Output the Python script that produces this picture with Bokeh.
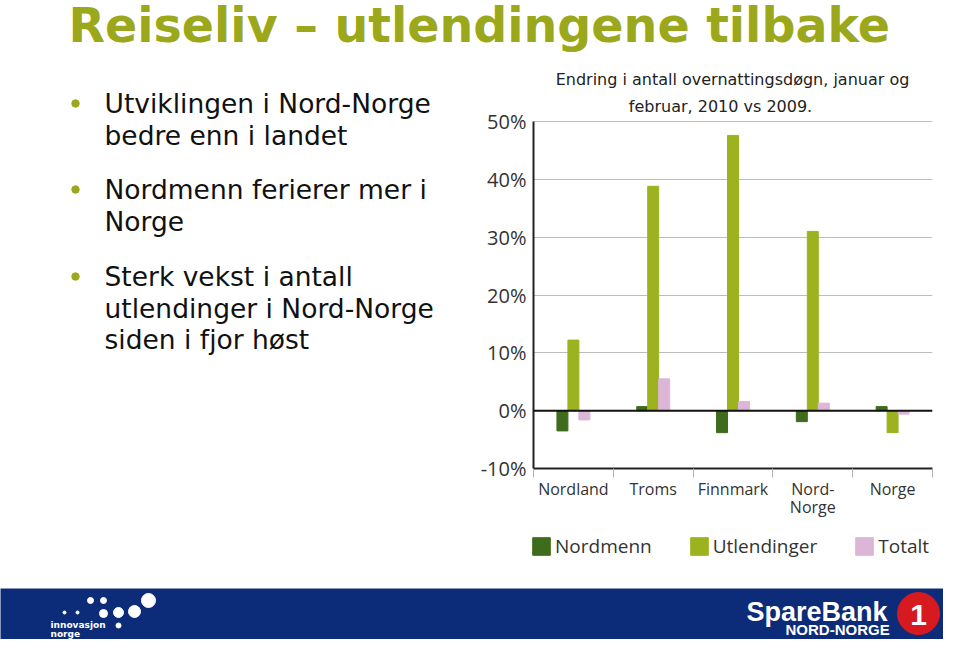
from bokeh.plotting import figure
from bokeh.layouts import column, row
from bokeh.models import (Range1d, FixedTicker, PrintfTickFormatter, Span, Legend,
                          LegendItem, Label, ColumnDataSource)
from bokeh.transform import dodge
from bokeh.embed import file_html
from bokeh.resources import INLINE

# ---------------- data ----------------
categories = ["Nordland", "Troms", "Finnmark", "Nord-Norge", "Norge"]
category_labels = ["Nordland", "Troms", "Finnmark", "Nord-\nNorge", "Norge"]
nordmenn = [-3.5, 0.7, -3.8, -1.9, 0.7]
utlendinger = [12.2, 38.8, 47.6, 31.0, -3.8]
totalt = [-1.6, 5.5, 1.6, 1.3, -0.6]
series_names = ["Nordmenn", "Utlendinger", "Totalt"]
y_ticks = [-10, 0, 10, 20, 30, 40, 50]

slide_title = "Reiseliv \u2013 utlendingene tilbake"
chart_title_1 = "Endring i antall overnattingsdøgn, januar og"
chart_title_2 = "februar, 2010 vs 2009."
bullet_lines = [
    ["Utviklingen i Nord-Norge", "bedre enn i landet"],
    ["Nordmenn ferierer mer i", "Norge"],
    ["Sterk vekst i antall", "utlendinger i Nord-Norge", "siden i fjor høst"],
]

OLIVE = "#9ca81b"
C_NORD = "#3f6c1c"
C_UTL = "#9cb31f"
C_TOT = "#dcb6d6"
NAVY = "#0c2c7a"

W = 943
TOP_H = 60          # slide title strip: y 0..60
ROW_BOTTOM = 530    # bullets + chart row: y 60..530
LEG_BOTTOM = 588    # legend strip: y 530..588
H = 639             # banner: y 588..639
FR_LEFT, FR_RIGHT = 533, 932      # chart frame in page pixels
FR_TOP, FR_BOTTOM = TOP_H, 468
Y50_PX = 121                       # where the 50 % line sits
BASE_FIX = 0.33                    # renderer places the alphabetic baseline this many em lower


def fix(y, size):
    """baseline wanted at page y -> y to hand to an inverted-y figure"""
    return y - BASE_FIX * size


def blank(w, h, x0, x1, y0, y1):
    f = figure(width=w, height=h, x_range=Range1d(x0, x1), y_range=Range1d(y1, y0),
               min_border=0, toolbar_location=None, output_backend="svg")
    f.axis.visible = False
    f.grid.visible = False
    f.outline_line_color = None
    return f

# ---------------- top title ----------------
top = blank(W, TOP_H, 0, W, 0, TOP_H)
top.text(x=[68], y=[fix(41, 47.5)], text=[slide_title], text_font={"value": "DejaVu Sans"},
         text_font_style="bold", text_font_size="47.5px", text_color=OLIVE,
         text_baseline="alphabetic", text_align="left")

# ---------------- left bullets (frame aligned with chart frame) ----------------
LEFT_W = FR_LEFT - 63
left = blank(LEFT_W, ROW_BOTTOM - TOP_H, 0, LEFT_W, FR_TOP, FR_BOTTOM)
left.min_border_bottom = ROW_BOTTOM - FR_BOTTOM
bx, by, tx, ty, tt = [], [], [], [], []
block_base = [112, 198, 285]
line_gap = 31.5
for b, lines in enumerate(bullet_lines):
    bx.append(75)
    by.append(block_base[b] - 9)
    for i, ln in enumerate(lines):
        tx.append(104)
        ty.append(fix(block_base[b] + i * line_gap, 26.5))
        tt.append(ln)
left.scatter(x=bx, y=by, size=7.5, marker="circle", color=OLIVE)
left.text(x=tx, y=ty, text=tt, text_font={"value": "DejaVu Sans"}, text_font_size="26.5px",
          text_color="#111111", text_baseline="alphabetic", text_align="left")

# ---------------- chart ----------------
xs = [i + 0.5 for i in range(len(categories))]
src = ColumnDataSource(dict(x=xs, nord=nordmenn, utl=utlendinger, tot=totalt))

px_per_unit = (FR_BOTTOM - Y50_PX) / 60.0
y_end = 50 + (Y50_PX - FR_TOP) / px_per_unit

chart = figure(width=W - LEFT_W, height=ROW_BOTTOM - TOP_H,
               x_range=Range1d(0, len(categories)), y_range=Range1d(-10, y_end),
               toolbar_location=None, output_backend="svg",
               min_border_left=63, min_border_right=W - FR_RIGHT, min_border_top=0,
               min_border_bottom=ROW_BOTTOM - FR_BOTTOM)
chart.outline_line_color = None
chart.xgrid.ticker = FixedTicker(ticks=[len(categories)])
chart.xgrid.bounds = (-10, 50)
chart.xgrid.grid_line_color = "#cfcfcf"
chart.ygrid.ticker = FixedTicker(ticks=y_ticks)
chart.ygrid.grid_line_color = "#bdbdbd"

bw = 0.1375
cols = ["nord", "utl", "tot"]
colors = [C_NORD, C_UTL, C_TOT]
offsets = [-bw, 0, bw]
for c, col, off in zip(cols, colors, offsets):
    chart.vbar(x=dodge("x", off, range=chart.x_range), top=c, width=bw, source=src, color=col)
chart.add_layout(Span(location=0, dimension="width", line_color="#111111", line_width=2))

ya = chart.yaxis[0]
ya.bounds = (-10, 50)
ya.ticker = FixedTicker(ticks=y_ticks)
ya.formatter = PrintfTickFormatter(format="%d%%")
ya.axis_line_color = "#222222"
ya.axis_line_width = 2
ya.major_tick_line_color = None
ya.major_tick_out = 0
ya.minor_tick_line_color = None
ya.major_label_standoff = 7
ya.major_label_text_font = "Open Sans"
ya.major_label_text_font_size = "20px"
ya.major_label_text_color = "#333333"

xa = chart.xaxis[0]
xa.ticker = FixedTicker(ticks=xs, minor_ticks=list(range(len(categories) + 1)))
xa.major_label_overrides = {x: lab for x, lab in zip(xs, category_labels)}
xa.axis_line_color = "#222222"
xa.axis_line_width = 2
xa.major_tick_line_color = None
xa.major_tick_out = 0
xa.major_tick_in = 0
xa.minor_tick_line_color = "#b0b0b0"
xa.minor_tick_in = 0
xa.minor_tick_out = 9
xa.major_label_standoff = 0
xa.major_label_text_font = "Open Sans"
xa.major_label_text_font_size = "16px"
xa.major_label_text_line_height = 0.85
xa.major_label_text_color = "#333333"

chart.add_layout(Label(x=732 - FR_LEFT, y=FR_BOTTOM - fix(84, 16), x_units="screen",
                       y_units="screen", text=chart_title_1, text_align="center",
                       text_baseline="alphabetic", text_font="DejaVu Sans",
                       text_font_size="16px", text_color="#222222"))
chart.add_layout(Label(x=720 - FR_LEFT, y=FR_BOTTOM - fix(111, 16), x_units="screen",
                       y_units="screen", text=chart_title_2, text_align="center",
                       text_baseline="alphabetic", text_font="DejaVu Sans",
                       text_font_size="16px", text_color="#222222"))

# ---------------- legend strip ----------------
legfig = blank(W, LEG_BOTTOM - ROW_BOTTOM, 0, W, ROW_BOTTOM, LEG_BOTTOM)
items = []
for name, c, col in zip(series_names, cols, colors):
    rr = legfig.vbar(x="x", top=c, width=bw, source=src, color=col, visible=False)
    items.append(LegendItem(label=name, renderers=[rr]))
legend = Legend(items=items, orientation="horizontal", location=(530, LEG_BOTTOM - 559),
                glyph_width=22, glyph_height=22, label_standoff=3, spacing=36, padding=0,
                margin=0, border_line_color=None, background_fill_alpha=0,
                inactive_fill_alpha=0,
                label_text_font="Open Sans", label_text_font_size="19px",
                label_text_color="#333333", label_height=22)
legfig.add_layout(legend)

# ---------------- banner ----------------
banner = blank(W, H - LEG_BOTTOM, 0, W, LEG_BOTTOM, H)
banner.background_fill_color = NAVY
banner.border_fill_color = NAVY
dots_x = [64, 77, 90, 103, 103, 118, 134, 148, 118]
dots_y = [612, 612, 600, 600, 613, 612, 611, 600, 625]
dots_s = [3, 3, 6, 6, 8, 10, 12, 14, 5]
banner.scatter(x=dots_x, y=dots_y, size=dots_s, marker="circle", color="white")
banner.text(x=[50, 50], y=[fix(627, 9), fix(636, 9)], text=["innovasjon", "norge"],
            text_font={"value": "DejaVu Sans"}, text_font_style="bold",
            text_font_size="9px", text_color="white", text_baseline="alphabetic")
banner.text(x=[746], y=[fix(620, 27)], text=["SpareBank"],
            text_font={"value": "Liberation Sans"}, text_font_style="bold",
            text_font_size="27px", text_color="white", text_baseline="alphabetic")
banner.text(x=[785], y=[fix(634, 15)], text=["NORD-NORGE"],
            text_font={"value": "Liberation Sans"}, text_font_style="bold",
            text_font_size="15px", text_color="white", text_baseline="alphabetic")
banner.scatter(x=[918], y=[613], size=42, marker="circle", color="#d71920")
banner.text(x=[918], y=[fix(624, 30)], text=["1"], text_font={"value": "Liberation Sans"},
            text_font_style="bold", text_font_size="30px", text_color="white",
            text_baseline="alphabetic", text_align="center")

layout = column(top, row(left, chart, spacing=0), legfig, banner, spacing=0)
open("out.html", "w").write(file_html(layout, INLINE))
